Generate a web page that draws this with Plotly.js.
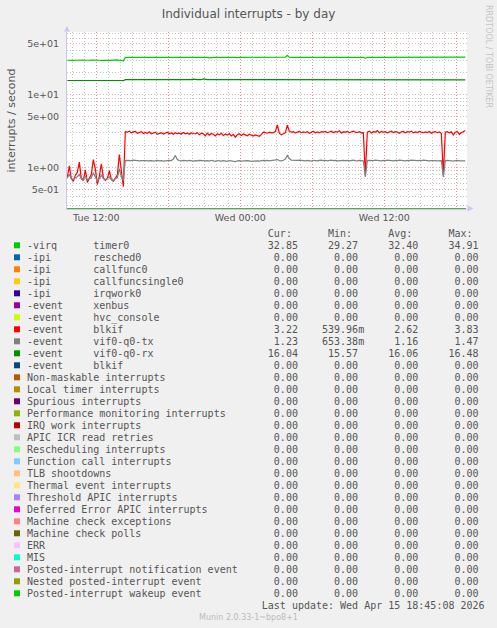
<!DOCTYPE html>
<html><head><meta charset="utf-8">
<script src="https://cdn.plot.ly/plotly-3.0.1.min.js"></script>
<style>html,body{margin:0;padding:0;background:#f0f0f0;overflow:hidden}#chart{width:497px;height:628px}</style>
</head><body><div id="chart"></div>
<script>
// ---------------- data ----------------
const chartTitle = 'Individual interrupts - by day';
const yAxisTitle = 'interrupts / second';
const watermark = 'RRDTOOL / TOBI OETIKER';
const footerText = 'Munin 2.0.33-1~bpo8+1';
const lastUpdate = 'Last update: Wed Apr 15 18:45:08 2026';
const statHeaders = ['Cur:', 'Min:', 'Avg:', 'Max:'];

const sampleStartUTC = Date.UTC(2026, 3, 14, 9, 35, 0); // Tue 09:35
const sampleStepMinutes = 10;
const xRange = ['2026-04-14 09:33:20', '2026-04-15 18:53:20'];
const xTickVals = ['2026-04-14 12:00','2026-04-14 18:00','2026-04-15 00:00','2026-04-15 06:00','2026-04-15 12:00','2026-04-15 18:00'];
const xTickText = ['Tue 12:00','','Wed 00:00','','Wed 12:00',''];
const yTickVals = [0.5, 1, 5, 10, 50];
const yTickText = ['5e-01','1e+00','5e+00','1e+01','5e+01'];
const yMinorVals = [0.3,0.4,0.6,0.7,0.8,0.9,2,3,4,6,7,8,9,20,30,40,60,70];
const yRange = [0.267, 73];
const logFloor = 0.27; // zero values drawn at the bottom of the log axis

const seriesPrefix = ['-virq','-ipi','-ipi','-ipi','-ipi','-event','-event','-event','-event','-event','-event',
  'Non-maskable interrupts','Local timer interrupts','Spurious interrupts','Performance monitoring interrupts',
  'IRQ work interrupts','APIC ICR read retries','Rescheduling interrupts','Function call interrupts',
  'TLB shootdowns','Thermal event interrupts','Threshold APIC interrupts','Deferred Error APIC interrupts',
  'Machine check exceptions','Machine check polls','ERR','MIS','Posted-interrupt notification event',
  'Nested posted-interrupt event','Posted-interrupt wakeup event'];
const seriesNames = ['timer0','resched0','callfunc0','callfuncsingle0','irqwork0','xenbus','hvc_console',
  'blkif','vif0-q0-tx','vif0-q0-rx','blkif','','','','','','','','','','','','','','','','','','',''];
const seriesColors = ['#00CC00','#0066B3','#FF8000','#FFCC00','#330099','#990099','#CCFF00','#FF0000',
  '#808080','#008F00','#00487D','#B35A00','#B38F00','#6B006B','#8FB300','#B30000','#BEBEBE','#80FF80',
  '#80C9FF','#FFC080','#FFE680','#AA80FF','#EE00CC','#FF8080','#666600','#FFBFFF','#00FFCC','#CC6699',
  '#999900','#00CC00'];

const curValues = [32.85,0,0,0,0,0,0,3.22,1.23,16.04,0,0,0,0,0,0,0,0,0,0,0,0,0,0,0,0,0,0,0,0];
const minValues = [29.27,0,0,0,0,0,0,0.53996,0.65338,15.57,0,0,0,0,0,0,0,0,0,0,0,0,0,0,0,0,0,0,0,0];
const avgValues = [32.40,0,0,0,0,0,0,2.62,1.16,16.06,0,0,0,0,0,0,0,0,0,0,0,0,0,0,0,0,0,0,0,0];
const maxValues = [34.91,0,0,0,0,0,0,3.83,1.47,16.48,0,0,0,0,0,0,0,0,0,0,0,0,0,0,0,0,0,0,0,0];

const timer0Values = [
  29.8,29.6,29.9,29.7,29.8,30.0,29.8,29.7,29.9,29.8, 29.6,29.8,29.9,29.7,29.8,30.0,29.8,29.7,29.9,29.6,
  29.8,29.7,29.9,29.8,29.7,30.1,29.8,29.9,29.3,
  32.6,32.9,33.2,32.8,32.7,32.7,32.8,32.7,32.7,32.7,
  32.7,32.7,32.7,32.7,32.7,32.7,32.7,32.7,32.7,32.7,
  32.7,32.7,32.7,32.7,32.7,33.2,32.7,32.7,32.7,32.7,
  32.7,32.7,32.7,32.7,32.7,32.7,32.7,32.7,32.7,32.7,
  32.7,32.7,32.2,32.7,32.7,32.7,32.7,32.7,32.7,32.7,
  32.7,32.7,32.7,32.7,33.2,32.7,32.3,32.7,32.7,32.7,
  32.7,32.7,32.7,32.7,32.7,32.6,32.7,32.7,32.7,32.7,
  32.7,32.7,32.7,33.2,32.7,33.2,33.2,32.7,32.7,32.7,
  32.9,34.9,32.9,32.7,32.7,32.7,32.7,32.7,32.7,32.7,
  32.7,33.2,32.7,32.7,32.7,32.7,32.7,32.7,32.7,32.7,
  32.7,32.7,32.7,32.7,32.7,32.7,32.7,32.7,32.7,32.7,
  32.7,33.2,32.7,33.2,33.2,32.7,32.7,32.7,32.7,32.7,
  31.8,32.7,32.7,32.7,32.7,32.7,32.7,32.7,32.7,33.2,
  33.2,32.7,32.7,32.7,32.7,32.7,33.2,32.7,32.7,32.7,
  32.7,32.7,32.7,32.7,32.7,32.7,32.7,33.2,32.7,32.7,
  32.7,32.7,32.7,33.2,32.7,32.7,32.7,32.7,32.7,32.7,
  32.7,32.7,32.7,32.7,32.7,32.7,32.7,33.2,33.2,32.7,
  32.85];

const blkifValues = [
  0.72,1.05,0.70,0.64,0.78,0.85,1.18,0.70,0.66,0.92, 0.62,0.70,0.80,1.28,0.95,0.58,0.75,1.12,0.72,0.66,
  0.70,0.90,0.68,0.64,0.72,0.78,1.50,0.80,0.54,
  3.10,3.05,3.15,2.98,3.08,3.12,2.95,3.05,3.10,2.92,
  3.02,2.95,3.08,2.90,2.98,3.05,2.85,2.95,3.00,2.88,
  2.95,3.05,2.90,2.98,2.85,3.00,2.92,2.96,2.88,3.02,
  2.90,2.95,2.85,2.98,2.92,2.88,3.00,2.82,2.95,2.90,
  2.72,2.95,2.78,2.92,2.85,2.70,2.90,2.80,2.95,2.75,
  2.88,2.78,2.92,2.70,2.85,2.60,2.82,2.90,2.75,2.88,
  2.80,2.72,2.85,2.78,2.70,2.80,2.75,2.68,2.82,3.05,
  3.00,2.95,3.05,2.98,3.00,3.10,3.83,2.95,2.80,2.92,
  3.00,3.80,3.15,3.05,3.10,2.98,3.05,3.12,3.00,3.08,
  3.02,3.10,2.95,3.05,3.15,3.00,3.08,2.98,3.10,3.05,
  3.12,3.00,3.08,3.15,3.02,3.10,3.05,3.18,2.98,3.08,
  3.05,3.12,3.00,3.08,3.15,3.05,3.02,3.10,2.98,3.00,
  0.80,3.05,3.15,2.98,3.10,3.05,3.20,3.00,3.12,3.05,
  3.10,2.98,3.08,3.15,3.02,3.10,3.05,2.95,3.08,3.12,
  3.00,3.10,3.05,3.15,2.98,3.08,3.02,3.12,3.05,3.00,
  3.08,3.02,3.12,2.95,3.05,3.10,3.00,3.08,2.95,0.80,
  3.05,3.10,2.98,3.08,2.80,3.05,3.12,2.85,3.00,3.10,
  3.22];

const vifTxValues = [
  0.72,0.80,0.70,0.68,0.72,0.74,0.80,0.70,0.68,0.76, 0.67,0.70,0.72,0.84,0.74,0.65,0.70,0.78,0.70,0.68,
  0.70,0.74,0.68,0.66,0.70,0.72,0.96,0.74,0.66,
  1.24,1.25,1.23,1.24,1.26,1.24,1.25,1.23,1.24,1.25,
  1.24,1.23,1.25,1.24,1.22,1.24,1.25,1.23,1.24,1.22,
  1.24,1.23,1.25,1.24,1.30,1.46,1.28,1.24,1.23,1.25,
  1.24,1.23,1.25,1.24,1.22,1.24,1.23,1.25,1.24,1.22,
  1.23,1.24,1.22,1.25,1.23,1.21,1.24,1.23,1.22,1.24,
  1.23,1.21,1.24,1.22,1.23,1.20,1.23,1.24,1.22,1.23,
  1.22,1.24,1.23,1.21,1.22,1.24,1.23,1.22,1.24,1.25,
  1.24,1.25,1.23,1.24,1.26,1.25,1.28,1.24,1.23,1.25,
  1.30,1.46,1.32,1.26,1.25,1.24,1.25,1.26,1.24,1.25,
  1.23,1.25,1.24,1.22,1.25,1.24,1.23,1.25,1.26,1.24,
  1.25,1.23,1.24,1.26,1.24,1.25,1.23,1.24,1.26,1.25,
  1.24,1.25,1.23,1.24,1.26,1.24,1.23,1.25,1.24,1.23,
  0.74,1.24,1.25,1.23,1.24,1.26,1.25,1.24,1.23,1.25,
  1.24,1.26,1.25,1.24,1.23,1.25,1.24,1.26,1.25,1.24,
  1.23,1.25,1.24,1.26,1.25,1.23,1.24,1.25,1.24,1.26,
  1.24,1.25,1.23,1.24,1.25,1.24,1.23,1.25,1.24,0.74,
  1.24,1.25,1.23,1.24,1.22,1.24,1.25,1.23,1.24,1.24,
  1.23];

const vifRxValues = [
  15.7,15.7,15.7,15.7,15.7,15.7,15.7,15.7,15.7,15.7, 15.7,15.7,15.7,15.7,16.0,15.7,15.7,15.7,15.7,15.7,
  15.7,15.7,15.7,15.7,15.7,15.7,15.7,15.7,15.6,
  16.1,16.1,16.1,16.1,16.1,16.1,16.1,16.1,16.1,16.1,
  16.1,16.1,16.1,16.1,16.1,16.1,16.1,16.1,16.1,16.1,
  16.1,16.1,16.1,16.1,15.8,16.1,16.1,16.1,16.1,16.1,
  16.1,16.1,16.1,16.1,16.4,16.1,16.1,16.1,16.1,16.5,
  16.1,16.1,16.1,16.1,16.1,16.1,16.1,16.1,16.1,16.1,
  16.1,16.1,16.1,16.1,16.1,16.1,16.1,16.1,16.1,16.1,
  16.1,16.1,16.1,16.1,16.1,16.1,16.1,16.1,16.1,16.1,
  16.1,16.1,16.1,16.1,16.1,16.1,16.1,16.1,16.1,16.1,
  16.1,16.1,16.1,16.1,16.1,16.1,16.1,16.1,16.1,16.1,
  16.1,16.1,16.1,16.1,16.1,16.1,16.1,16.1,16.1,16.1,
  16.1,16.1,16.1,16.1,16.1,16.1,16.1,16.1,16.1,16.1,
  16.1,16.1,16.1,16.1,16.1,16.1,15.8,16.1,16.1,16.1,
  15.8,16.1,16.1,16.1,16.1,16.1,16.1,16.1,16.1,15.8,
  16.1,16.1,16.1,16.1,15.8,16.1,16.1,16.1,16.1,16.1,
  16.1,16.1,16.1,16.1,16.1,16.1,16.1,16.1,16.1,16.1,
  16.1,16.1,16.1,16.1,16.1,16.1,16.1,16.1,16.1,15.8,
  16.1,16.1,16.1,16.1,16.1,16.1,15.8,16.1,16.1,16.1,
  16.04];

// ---------------- build ----------------
const N = blkifValues.length;
[timer0Values, vifTxValues, vifRxValues].forEach(a => { if (a.length !== N) throw new Error('length mismatch ' + a.length + ' vs ' + N); });

function pad2(n){ return (n < 10 ? '0' : '') + n; }
const times = [];
for (let i = 0; i < N; i++) {
  const d = new Date(sampleStartUTC + i * sampleStepMinutes * 60000);
  times.push(d.getUTCFullYear() + '-' + pad2(d.getUTCMonth()+1) + '-' + pad2(d.getUTCDate()) + ' ' +
             pad2(d.getUTCHours()) + ':' + pad2(d.getUTCMinutes()) + ':00');
}
const zeroValues = new Array(N).fill(0);
const seriesData = seriesNames.map((_, k) => {
  if (k === 0) return timer0Values;
  if (k === 7) return blkifValues;
  if (k === 8) return vifTxValues;
  if (k === 9) return vifRxValues;
  return zeroValues;
});

const traces = seriesData.map((vals, k) => ({
  type: 'scatter', mode: 'lines', x: times,
  y: vals.map(v => Math.max(v, logFloor)),
  line: { color: seriesColors[k], width: vals === zeroValues ? 1 : 1.2 },
  opacity: vals === zeroValues ? 0.55 : 1,
  hoverinfo: 'skip', showlegend: false
}));

// pixel geometry
const L = 67, T = 32, W = 400, H = 177;
const px = p => (p - L) / W;
const py = p => (T + H - p) / H;
const nb = s => s.replace(/ /g, '\u00a0');
const monoFont = { family: 'DejaVu Sans Mono', size: 10, color: '#555555' };

function fmtStat(v) {
  if (v === 0) return '0.00'.padStart(6) + ' ';
  if (Math.abs(v) < 1) return (v * 1000).toFixed(2).padStart(6) + 'm';
  return v.toFixed(2).padStart(6) + ' ';
}

const annotations = [];
const shapes = [];
const legendX = 26.7, rowY0 = 245.7, rowH = 12;

// header
annotations.push({ xref:'paper', yref:'paper', x: px(legendX), y: py(rowY0 - rowH), xanchor:'left', yanchor:'middle',
  text: nb(' '.repeat(40) + statHeaders.join('      ')), showarrow:false, font: monoFont, borderpad:0, borderwidth:0 });

seriesPrefix.forEach((pre, k) => {
  const label = seriesNames[k] ? pre.padEnd(11) + seriesNames[k] : pre;
  const row = label.padEnd(39) + fmtStat(curValues[k]) + '   ' + fmtStat(minValues[k]) + '   ' +
              fmtStat(avgValues[k]) + '   ' + fmtStat(maxValues[k]);
  const yc = rowY0 + k * rowH;
  annotations.push({ xref:'paper', yref:'paper', x: px(legendX), y: py(yc), xanchor:'left', yanchor:'middle',
    text: nb(row), showarrow:false, font: monoFont, borderpad:0, borderwidth:0 });
  shapes.push({ type:'rect', xref:'paper', yref:'paper', x0: px(14), x1: px(20), y0: py(yc + 2.6), y1: py(yc - 3.4),
    fillcolor: seriesColors[k], line: { width: 0 } });
});

annotations.push({ xref:'paper', yref:'paper', x: px(legendX), y: py(rowY0 + 30 * rowH), xanchor:'left', yanchor:'middle',
  text: nb(' '.repeat(39) + lastUpdate), showarrow:false, font: monoFont, borderpad:0, borderwidth:0 });
annotations.push({ xref:'paper', yref:'paper', x: px(248.5), y: py(617.3), xanchor:'center', yanchor:'middle',
  text: footerText, showarrow:false, font: { family:'DejaVu Sans', size: 8, color:'#bbbbbb' }, borderpad:0, borderwidth:0 });
annotations.push({ xref:'paper', yref:'paper', x: px(488.5), y: py(56.5), xanchor:'center', yanchor:'middle',
  text: watermark, textangle: 90, showarrow:false, font: { family:'DejaVu Sans', size: 8, color:'#c4c4c4' }, borderpad:0, borderwidth:0 });

// axis arrows
const axisCol = '#c8c8f0';
shapes.push({ type:'path', xref:'paper', yref:'paper',
  path: `M ${px(64)},${py(31.5)} L ${px(70)},${py(31.5)} L ${px(67)},${py(26)} Z`, fillcolor: axisCol, line:{width:0} });
shapes.push({ type:'path', xref:'paper', yref:'paper',
  path: `M ${px(467.5)},${py(205.5)} L ${px(467.5)},${py(211.5)} L ${px(473.5)},${py(208.5)} Z`, fillcolor: axisCol, line:{width:0} });

const majorGrid = 'rgba(240,110,110,0.6)';
const minorGrid = '#c4c4c4';
const axisFont = { family: 'DejaVu Sans', size: 9.5, color: '#555555' };

const layout = {
  width: 497, height: 628,
  paper_bgcolor: '#f0f0f0', plot_bgcolor: '#ffffff',
  margin: { l: L, r: 497 - L - W, t: T, b: 628 - T - H, pad: 0 },
  title: { text: chartTitle, font: { family: 'DejaVu Sans', size: 12, color: '#555555' },
           x: 0.5, xref: 'container', xanchor: 'center', y: 1 - 13.5/628, yref: 'container', yanchor: 'middle' },
  showlegend: false, hovermode: false,
  xaxis: {
    type: 'date', range: xRange, tickmode: 'array', tickvals: xTickVals, ticktext: xTickText,
    showgrid: true, gridcolor: majorGrid, griddash: '1px,2px', gridwidth: 1,
    minor: { tickmode: 'linear', tick0: '2026-04-14 10:00', dtick: 3600000, showgrid: true,
             gridcolor: minorGrid, griddash: '1px,2px', ticks: '' },
    showline: true, linecolor: axisCol, linewidth: 1, zeroline: false, ticks: '',
    tickfont: axisFont, automargin: false, fixedrange: true
  },
  yaxis: {
    type: 'log', range: [Math.log10(yRange[0]), Math.log10(yRange[1])],
    tickmode: 'array', tickvals: yTickVals, ticktext: yTickText,
    showgrid: true, gridcolor: majorGrid, griddash: '1px,2px', gridwidth: 1,
    minor: { tickmode: 'array', tickvals: yMinorVals, showgrid: true, gridcolor: minorGrid, griddash: '1px,2px', ticks: '' },
    showline: true, linecolor: axisCol, linewidth: 1, zeroline: false, ticks: '', ticklabelstandoff: 5,
    tickfont: axisFont, automargin: false, fixedrange: true,
    title: { text: yAxisTitle, font: { family: 'DejaVu Sans', size: 11, color: '#555555' }, standoff: 9 }
  },
  annotations: annotations, shapes: shapes
};

Plotly.newPlot('chart', traces, layout, { staticPlot: true, displayModeBar: false });
</script>
</body></html>
